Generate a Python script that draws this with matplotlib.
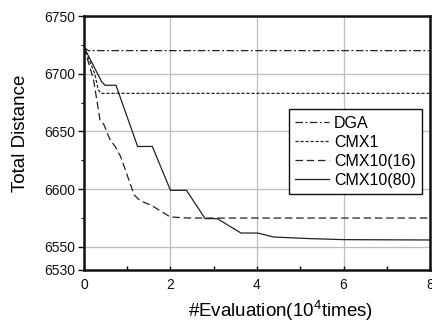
import matplotlib
matplotlib.use("Agg")
import matplotlib.pyplot as plt

plt.rcParams['font.family'] = ['Liberation Sans', 'DejaVu Sans']
plt.rcParams['mathtext.fontset'] = 'custom'
plt.rcParams['mathtext.rm'] = 'Liberation Sans'
plt.rcParams['mathtext.it'] = 'Liberation Sans:italic'

# Data (x in 10^4 evaluations)
dga_x = [0, 0.1, 8]
dga_y = [6723, 6720, 6720]

cmx1_x = [0, 0.25, 0.33, 0.4, 8]
cmx1_y = [6723, 6700, 6686, 6683, 6683]

cmx16_x = [0, 0.22, 0.37, 0.46, 0.6, 0.72, 0.85, 1.16, 1.3, 1.56, 1.99, 2.4, 8]
cmx16_y = [6723, 6695, 6660, 6656, 6643, 6637, 6628, 6595, 6590, 6586, 6576, 6575, 6575]

cmx80_x = [0, 0.41, 0.49, 0.74, 1.24, 1.58, 2.0, 2.37, 2.8, 3.08, 3.63, 4.02, 4.38, 5.2, 6.0, 8]
cmx80_y = [6723, 6693, 6690, 6690, 6637, 6637, 6599, 6599, 6574.5, 6574.5, 6562, 6562, 6558.6, 6557.2, 6556.3, 6556]

labels = ['DGA', 'CMX1', 'CMX10(16)', 'CMX10(80)']

fig = plt.figure(figsize=(4.32, 3.22), dpi=100)
ax = fig.add_axes([0.1944, 0.1615, 0.8010, 0.7888])

lw = 0.9
ax.plot(dga_x, dga_y, color='#222222', lw=lw, linestyle=(0, (6, 2, 1.5, 2)), label=labels[0])
ax.plot(cmx1_x, cmx1_y, color='#222222', lw=lw, linestyle=(0, (2.5, 1.5)), label=labels[1])
ax.plot(cmx16_x, cmx16_y, color='#222222', lw=lw, linestyle=(0, (6, 3)), label=labels[2])
ax.plot(cmx80_x, cmx80_y, color='#222222', lw=lw, linestyle='-', label=labels[3])

ax.set_xlim(0, 8)
ax.set_ylim(6530, 6750)
ax.set_xticks([0, 2, 4, 6, 8])
ax.set_xticks([1, 3, 5, 7], minor=True)
ax.set_yticks([6530, 6550, 6600, 6650, 6700, 6750])
ax.set_yticks([6575, 6625, 6675, 6725], minor=True)
ax.grid(True, which='major', color='#bdbdbd', lw=0.9)
ax.set_axisbelow(True)

for s in ax.spines.values():
    s.set_linewidth(1.8)
    s.set_color('#111111')

ax.tick_params(axis='y', which='major', direction='out', length=4, width=1, labelsize=10, colors='#111111', pad=2)
ax.tick_params(axis='y', which='minor', direction='out', length=2.5, width=0.8, colors='#111111')
ax.tick_params(axis='x', which='major', direction='in', length=3, width=1, labelsize=10, colors='#111111', pad=6)
ax.tick_params(axis='x', which='minor', direction='in', length=3, width=1)

ax.set_ylabel('Total Distance', fontsize=13.5)
ax.yaxis.set_label_coords(-0.158, 0.537)
ax.set_xlabel('#Evaluation(10$^{4}$times)', fontsize=13.5)
ax.xaxis.set_label_coords(0.567, -0.112)

leg = ax.legend(loc='upper right', bbox_to_anchor=(0.977, 0.632), fontsize=11.5,
                frameon=True, fancybox=False, edgecolor='#111111', framealpha=1,
                handlelength=2.1, handletextpad=0.3, borderpad=0.4, labelspacing=0.25,
                borderaxespad=0)
leg.get_frame().set_linewidth(1.0)

fig.savefig('out.png', dpi=100)
